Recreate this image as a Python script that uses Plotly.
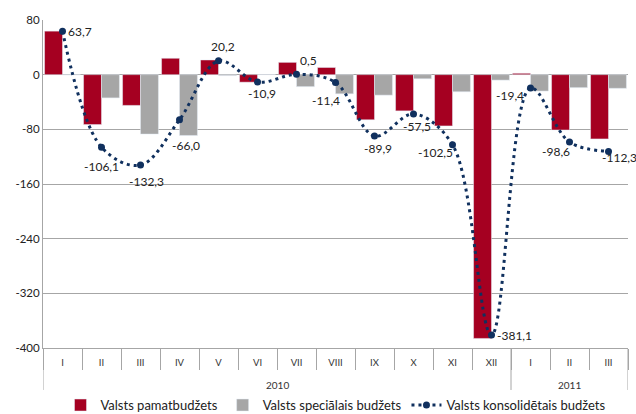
import plotly.graph_objects as go

years = ["2010"] * 12 + ["2011"] * 3
months = ["I", "II", "III", "IV", "V", "VI", "VII", "VIII", "IX", "X", "XI", "XII", "I", "II", "III"]

pamat = [63.7, -73, -45, 24, 21.5, -11, 18, 10.5, -66, -53, -75, -386, 2, -81, -94]
special = [-0.3, -34, -87, -89, -1.3, 0.3, -17.5, -28, -30, -6, -25, -8, -24, -19, -20]
konsol = [63.7, -106.1, -132.3, -66.0, 20.2, -10.9, 0.5, -11.4, -89.9, -57.5, -102.5, -381.1, -19.4, -98.6, -112.3]

y_ticks = [80, 0, -80, -160, -240, -320, -400]

# label offsets (px) from each point of the consolidated line
label_dx = [17, 0, 6, 6, 4, 4, 12, -10, 3, 3, -17, 23, -21, -14, 11]
label_dy = [0, 19, 16, 26, -14, 11, -14, 18, 12, 13, 8, 0, 8, 9, 6]

RED = "#a50021"
GRAY = "#a6a6a6"
NAVY = "#10305e"
LINE = "#a6a6a6"
FONT = "Lato"

xs = list(range(len(months)))

fig = go.Figure()
fig.add_trace(go.Bar(x=xs, y=pamat, name="Valsts pamatbudžets", marker_color=RED))
fig.add_trace(go.Bar(x=xs, y=special, name="Valsts speciālais budžets", marker_color=GRAY))
fig.add_trace(go.Scatter(
    x=xs, y=konsol, name="Valsts konsolidētais budžets",
    mode="lines+markers",
    line=dict(color=NAVY, dash="3px,4px", width=3, shape="spline", smoothing=1.0),
    marker=dict(color=NAVY, size=7),
    cliponaxis=False,
))

# data labels
for i, v in enumerate(konsol):
    fig.add_annotation(x=xs[i], y=v, text=f"{v:.1f}".replace(".", ","), showarrow=False,
                       xanchor="center", yanchor="middle",
                       xshift=label_dx[i], yshift=-label_dy[i],
                       font=dict(family=FONT, size=12, color="#222222"))

# year labels and group dividers
depth = -0.128
groups = []
for i, yr in enumerate(years):
    if not groups or groups[-1][0] != yr:
        groups.append([yr, i, i])
    else:
        groups[-1][2] = i
for yr, a, b in groups:
    fig.add_annotation(x=(a + b) / 2, y=-0.113, yref="paper", text=yr, showarrow=False,
                       yanchor="middle", font=dict(family=FONT, size=10, color="#333333"))
bounds = [groups[0][1] - 0.5] + [b + 0.5 for _, a, b in groups]
for bx in bounds:
    fig.add_shape(type="line", x0=bx, x1=bx, y0=0, y1=depth, yref="paper",
                  line=dict(color=LINE, width=1))

fig.update_layout(
    width=636, height=414,
    margin=dict(l=43, r=8, t=20, b=66, autoexpand=False),
    paper_bgcolor="white", plot_bgcolor="white",
    barmode="group", bargap=0.08, bargroupgap=0,
    font=dict(family=FONT, size=11, color="#222222"),
    showlegend=True,
    legend=dict(orientation="h", x=0.5, xanchor="center", y=-0.174, yanchor="middle",
                font=dict(size=13), traceorder="normal"),
)
fig.update_yaxes(
    range=[-400, 80], tickvals=y_ticks, ticktext=[str(v) for v in y_ticks],
    showgrid=True, gridcolor=LINE, gridwidth=1,
    zeroline=True, zerolinecolor=LINE, zerolinewidth=1,
    showline=True, linecolor=LINE, linewidth=1,
    tickfont=dict(size=11.5), automargin=False,
)
fig.update_xaxes(
    range=[-0.5, len(months) - 0.5],
    tickmode="array", tickvals=xs, ticktext=months, ticks="",
    minor=dict(tickmode="array", tickvals=[i - 0.5 for i in range(len(months) + 1)],
               ticks="outside", ticklen=21, tickcolor=LINE, showgrid=False),
    showgrid=False, zeroline=False,
    showline=True, linecolor=LINE, linewidth=1,
    tickfont=dict(size=9.5, color="#333333"), ticklabelstandoff=6, automargin=False,
)

fig.write_html("out.html", config={"displayModeBar": False},
               post_script="document.body.style.margin='0';")
